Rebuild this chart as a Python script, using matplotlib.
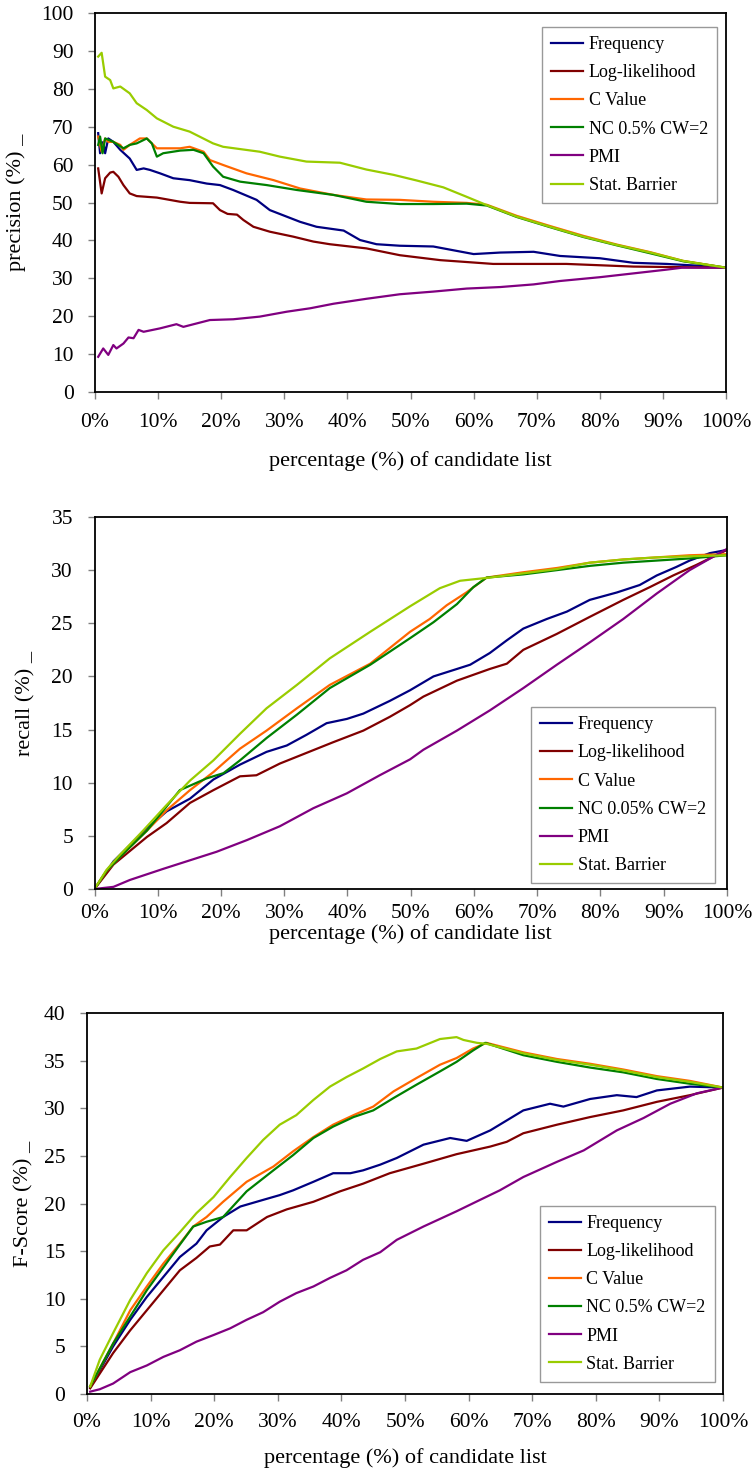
import matplotlib
matplotlib.use("Agg")
import matplotlib.pyplot as plt
from matplotlib.ticker import FuncFormatter

plt.rcParams['font.family'] = ['Liberation Serif', 'DejaVu Serif']

names = ["Frequency", "Log-likelihood", "C Value", "NC 0.5% CW=2", "PMI", "Stat. Barrier"]
names_recall = ["Frequency", "Log-likelihood", "C Value", "NC 0.05% CW=2", "PMI", "Stat. Barrier"]
colors = ["#000080", "#800000", "#FF6600", "#008000", "#800080", "#99CC00"]

# ---- precision (%) ----
prec_freq_x = [0.5, 0.8, 1.3, 1.6, 2.1, 2.9, 4, 5.5, 6.6, 7.7, 8.7, 10.3, 12.4, 15, 17.7, 19.8, 21.9, 25.6,
               27.7, 32.5, 35.1, 39.4, 42, 44.6, 48.3, 53.6, 60, 64.2, 69.5, 73.7, 80, 85.3, 90.6, 95.9, 100]
prec_freq = [68.3, 63, 66, 63, 66.9, 66, 63.9, 61.6, 58.6, 59, 58.6, 57.7, 56.4, 55.9, 55, 54.6, 53.3, 50.7,
             48, 44.9, 43.6, 42.6, 40.1, 39, 38.6, 38.4, 36.4, 36.8, 37, 35.9, 35.3, 34.1, 33.8, 33.3, 32.8]
prec_ll_x = [0.5, 1.05, 1.6, 2.4, 2.9, 3.7, 4.5, 5.5, 6.6, 9.8, 13.5, 15, 18.7, 19.8, 21, 22.5, 23.5, 25.1,
             27.7, 31.4, 34.6, 37.2, 43, 48.3, 54.7, 63.1, 74.7, 85.3, 100]
prec_ll = [59, 52.4, 56.4, 57.9, 58.1, 56.8, 54.6, 52.4, 51.7, 51.3, 50.2, 49.9, 49.8, 48, 47, 46.8, 45.4, 43.6,
           42.3, 41, 39.7, 39, 37.9, 36.1, 34.8, 33.8, 33.8, 33.1, 32.8]
prec_cval_x = [0.5, 1.05, 1.6, 2.1, 2.9, 4, 4.5, 5.5, 7.1, 8.2, 9, 9.8, 13.5, 15, 17.2, 18.2, 20.3, 24, 28.3,
               32.5, 37.8, 43, 48.3, 53.6, 58.9, 62.1, 66.8, 72.1, 77.4, 82.7, 88, 93.2, 100]
prec_cval = [67.4, 63.4, 66.9, 66, 66, 65.2, 63.9, 65.2, 66.9, 66.9, 65.6, 64.3, 64.3, 64.7, 63.4, 61.2, 59.9,
             57.7, 55.9, 53.7, 52, 50.8, 50.7, 50.2, 49.9, 49.4, 46.5, 43.8, 41.2, 38.9, 36.9, 34.6, 32.8]
prec_nc_x = [0.5, 0.8, 1.2, 1.6, 2.9, 4.5, 5.5, 6.6, 8.2, 9, 9.8, 10.8, 13.5, 15.6, 17.2, 18.7, 20.3, 23, 27.2,
             32, 37.8, 43, 48.3, 53.6, 58.9, 62.1, 66.8, 72.1, 77.4, 82.7, 88, 93.2, 100]
prec_nc = [65.2, 67.4, 63, 66.9, 66, 64.3, 65.2, 65.6, 66.9, 65.6, 62.1, 63, 63.7, 63.9, 63, 59.5, 56.8, 55.5,
           54.6, 53.3, 52, 50.2, 49.6, 49.6, 49.7, 49.2, 46.2, 43.5, 40.9, 38.7, 36.6, 34.5, 32.8]
prec_pmi_x = [0.5, 1.3, 2.1, 2.9, 3.4, 4.5, 5.3, 6.1, 6.9, 7.7, 10.3, 12.9, 14, 18.2, 21.9, 26.1, 30.4, 34.1,
              37.8, 43, 48.3, 53.6, 58.9, 64.2, 69.5, 73.7, 80, 85.3, 90.6, 93, 100]
prec_pmi = [9.3, 11.5, 9.8, 12.4, 11.5, 12.8, 14.4, 14.2, 16.4, 15.9, 16.8, 17.9, 17.2, 19, 19.2, 19.9, 21.2,
            22.1, 23.3, 24.6, 25.8, 26.5, 27.3, 27.7, 28.4, 29.3, 30.3, 31.3, 32.3, 32.8, 32.8]
prec_sb_x = [0.5, 1.05, 1.6, 2.4, 2.9, 4, 5.5, 6.6, 8.2, 9.8, 12.4, 15, 18.7, 20.3, 26.1, 29.3, 33.5, 38.8, 43,
             47.3, 51, 55.2, 58.9, 62.1, 66.8, 72.1, 77.4, 82.7, 88, 93.2, 100]
prec_sb = [88.5, 89.5, 83.2, 82.3, 80.1, 80.6, 78.8, 76.2, 74.4, 72.2, 70, 68.7, 65.6, 64.7, 63.4, 62.1, 60.8,
           60.5, 58.7, 57.3, 55.8, 54, 51.5, 49.3, 46.3, 43.6, 41, 38.8, 36.8, 34.6, 32.8]

# ---- recall (%) ----
rec_freq_x = [0, 3, 8.3, 11.4, 15.1, 18.8, 23, 27.2, 30.4, 33.5, 36.7, 39.9, 42.5, 46.7, 49.9, 53.6, 57.3,
              59.4, 62.5, 65.2, 67.8, 71.5, 74.7, 78.3, 82.6, 86.2, 88.9, 92, 94.1, 97.3, 100]
rec_freq = [0, 2.6, 5.7, 7.3, 8.5, 10.3, 11.7, 12.9, 13.5, 14.5, 15.6, 16, 16.5, 17.7, 18.7, 20, 20.7, 21.1,
            22.2, 23.4, 24.5, 25.4, 26.1, 27.2, 27.9, 28.6, 29.5, 30.3, 30.9, 31.6, 31.9]
rec_ll_x = [0, 3, 8.3, 11.4, 15.1, 18.8, 23, 25.6, 29.3, 33.5, 37.7, 42.5, 46.7, 49.9, 52, 57.3, 62.5, 65.2,
            67.8, 73.1, 78.3, 83.6, 87.8, 91.5, 95.2, 100]
rec_ll = [0, 2.3, 4.9, 6.2, 8.1, 9.3, 10.6, 10.7, 11.8, 12.8, 13.8, 14.9, 16.2, 17.3, 18.1, 19.6, 20.7, 21.2,
          22.5, 24, 25.6, 27.2, 28.4, 29.5, 30.5, 31.9]
rec_cval_x = [0, 1.9, 4, 8.3, 11.4, 15.1, 18.8, 23, 27.2, 32, 37.2, 43.6, 49.9, 53, 55.7, 58.8, 62, 67.8,
              73.1, 78.3, 83.6, 88.9, 94.1, 100]
rec_cval = [0, 1.7, 3.0, 5.5, 7.4, 9.3, 11, 13.2, 14.9, 17, 19.2, 21.2, 24.2, 25.4, 26.7, 27.9, 29.3, 29.8,
            30.2, 30.7, 31, 31.2, 31.4, 31.5]
rec_nc_x = [0, 1.9, 4, 8.3, 10.9, 13.5, 17.7, 20.4, 23, 27.2, 32, 37.2, 43.6, 49.9, 53.6, 57.3, 59.9, 62,
            67.8, 73.1, 78.3, 83.6, 88.9, 94.1, 100]
rec_nc = [0, 1.7, 3.0, 5.5, 7.4, 9.3, 10.4, 10.9, 12.1, 14.2, 16.4, 18.9, 21.1, 23.6, 25.1, 26.8, 28.4, 29.3,
          29.6, 30, 30.4, 30.7, 30.9, 31.1, 31.4]
rec_pmi_x = [0, 3, 5.6, 10.9, 15.1, 19.3, 24.1, 29.3, 34.6, 39.9, 45.1, 49.9, 52, 57.3, 62.5, 67.8, 73.1,
             78.3, 83.6, 88.9, 94.1, 100]
rec_pmi = [0, 0.2, 0.85, 1.9, 2.7, 3.5, 4.6, 5.9, 7.6, 9, 10.7, 12.2, 13.1, 14.9, 16.8, 18.9, 21.1, 23.2,
           25.4, 27.8, 30, 32]
rec_sb_x = [0, 1.9, 4, 7.7, 11.4, 15.1, 18.8, 23, 27.2, 32, 37.2, 43.6, 49.9, 54.6, 57.8, 62.5, 67.8, 73.1,
            78.3, 83.6, 88.9, 94.1, 100]
rec_sb = [0, 1.8, 3.2, 5.5, 7.9, 10.2, 12.1, 14.6, 17, 19.2, 21.7, 24.2, 26.6, 28.3, 29, 29.3, 29.7, 30.1,
          30.7, 31, 31.2, 31.3, 31.4]

# ---- F-Score (%) ----
f_freq_x = [0.5, 4.1, 6.8, 9.4, 12, 14.6, 17.2, 18.8, 21.4, 24.1, 27.7, 30.3, 32.4, 35.6, 38.7, 41.4, 43.4,
            46.1, 48.7, 52.9, 57.1, 59.7, 63.4, 68.6, 72.8, 74.9, 79.1, 83.3, 86.4, 89.6, 94.8, 100]
f_freq = [0.7, 5, 7.8, 10.2, 12.3, 14.4, 15.8, 17.2, 18.6, 19.7, 20.4, 20.9, 21.4, 22.3, 23.2, 23.2, 23.5,
          24.1, 24.8, 26.2, 26.9, 26.6, 27.7, 29.8, 30.5, 30.2, 31, 31.4, 31.2, 31.9, 32.3, 32.2]
f_ll_x = [0.5, 4.1, 6.8, 9.4, 12, 14.6, 17.2, 19.3, 20.9, 23, 25.1, 28.3, 31.4, 35.6, 39.8, 43.4, 47.6, 52.9,
          58.1, 63.4, 66, 68.6, 73.9, 79.1, 84.3, 89.6, 94.8, 100]
f_ll = [0.6, 4.3, 6.7, 8.8, 10.9, 13, 14.3, 15.5, 15.7, 17.2, 17.2, 18.6, 19.4, 20.2, 21.3, 22.1, 23.2, 24.2,
        25.2, 26, 26.5, 27.4, 28.3, 29.1, 29.8, 30.7, 31.4, 32.2]
f_cval_x = [0.5, 4.1, 6.8, 9.4, 12, 14.6, 16.7, 18.8, 21.4, 25.1, 29.3, 32.4, 35.6, 38.7, 41.9, 45, 48.2, 51.8,
            55.5, 58.1, 60.7, 62.8, 68.6, 73.9, 79.1, 84.3, 89.6, 94.8, 100]
f_cval = [0.8, 5.3, 8.8, 11.3, 13.7, 15.8, 17.6, 18.6, 20.2, 22.3, 23.9, 25.5, 27, 28.3, 29.3, 30.2, 31.8,
          33.2, 34.6, 35.3, 36.3, 36.9, 35.9, 35.2, 34.7, 34.1, 33.4, 32.9, 32.2]
f_nc_x = [0.5, 4.1, 9.4, 14.6, 16.7, 18.8, 21.4, 25.1, 29.3, 32.4, 35.6, 38.7, 41.9, 45, 48.2, 51.8, 55.5, 58.1,
          60.7, 62.6, 68.6, 73.9, 79.1, 84.3, 89.6, 94.8, 100]
f_nc = [0.8, 5.3, 10.9, 15.7, 17.6, 18.1, 18.6, 21.3, 23.5, 25.1, 26.9, 28.1, 29.1, 29.8, 31.1, 32.5, 33.9,
        34.9, 36.1, 36.9, 35.6, 34.9, 34.3, 33.8, 33.1, 32.6, 32.2]
f_pmi_x = [0.5, 2, 4.1, 6.8, 9.4, 12, 14.6, 17.2, 19.9, 22.5, 25.1, 27.7, 30.3, 32.9, 35.6, 38.2, 40.8, 43.4,
           46.1, 48.7, 52.9, 58.1, 61.8, 64.9, 68.6, 73.9, 78.1, 83.3, 87.5, 91.7, 95.9, 100]
f_pmi = [0.25, 0.5, 1.1, 2.3, 3, 3.9, 4.6, 5.5, 6.2, 6.9, 7.8, 8.6, 9.7, 10.6, 11.3, 12.2, 13, 14.1, 14.9,
         16.2, 17.6, 19.2, 20.4, 21.4, 22.8, 24.4, 25.6, 27.7, 29, 30.5, 31.6, 32.2]
f_sb_x = [0.5, 2, 4.1, 6.8, 9.4, 12, 14.6, 17.2, 19.9, 22.5, 25.1, 27.7, 30.3, 32.9, 35.6, 38.2, 40.8, 43.4,
          46.1, 48.7, 51.8, 55.5, 58.1, 59.2, 61.3, 62.8, 68.6, 73.9, 79.1, 84.3, 89.6, 94.8, 100]
f_sb = [0.8, 3.6, 6.4, 9.9, 12.7, 15.1, 17, 19, 20.7, 22.8, 24.8, 26.7, 28.3, 29.3, 30.9, 32.3, 33.3, 34.2,
        35.2, 36, 36.3, 37.3, 37.5, 37.2, 36.9, 36.8, 35.8, 35.1, 34.6, 34, 33.3, 32.8, 32.2]


def draw_panel(ax, series, labels, ymax, ystep, ylabel, ylabel_x, xlabel_y, xpad, leg_loc, leg_anchor):
    for (xs, ys), lab, col in zip(series, labels, colors):
        ax.plot(xs, ys, color=col, lw=1.6, label=lab)
    ax.set_xlim(0, 100)
    ax.set_ylim(0, ymax)
    ax.set_xticks(range(0, 101, 10))
    ax.set_yticks(range(0, ymax + 1, ystep))
    ax.xaxis.set_major_formatter(FuncFormatter(lambda v, p: "%d%%" % v))
    ax.tick_params(axis='both', direction='out', length=5, width=1, color='#808080', labelsize=15.5)
    ax.tick_params(axis='x', pad=xpad)
    ax.tick_params(axis='y', pad=10.5)
    for s in ax.spines.values():
        s.set_color('black')
        s.set_linewidth(1.3)
    ax.set_xlabel("percentage (%) of candidate list", fontsize=16, va='center')
    ax.xaxis.set_label_coords(0.5, xlabel_y)
    ax.set_ylabel(ylabel, fontsize=16, va='center')
    ax.yaxis.set_label_coords(ylabel_x, 0.5)
    leg = ax.legend(loc=leg_loc, bbox_to_anchor=leg_anchor, borderaxespad=0, fontsize=13, frameon=True,
                    fancybox=False, edgecolor='#808080', handlelength=1.8, handletextpad=0.3,
                    labelspacing=0.62, borderpad=0.5)
    leg.get_frame().set_linewidth(1.0)


fig = plt.figure(figsize=(7.56, 14.75), dpi=100)
ax1 = fig.add_axes([0.1257, 0.7342, 0.8347, 0.257])
ax2 = fig.add_axes([0.1250, 0.3973, 0.8366, 0.2522])
ax3 = fig.add_axes([0.1151, 0.0549, 0.8413, 0.2581])

draw_panel(ax1,
           [(prec_freq_x, prec_freq), (prec_ll_x, prec_ll), (prec_cval_x, prec_cval),
            (prec_nc_x, prec_nc), (prec_pmi_x, prec_pmi), (prec_sb_x, prec_sb)],
           names, 100, 10, "precision (%) _", -0.125, -0.183, 10, 'upper right', (0.9857, 0.963))
draw_panel(ax2,
           [(rec_freq_x, rec_freq), (rec_ll_x, rec_ll), (rec_cval_x, rec_cval),
            (rec_nc_x, rec_nc), (rec_pmi_x, rec_pmi), (rec_sb_x, rec_sb)],
           names_recall, 35, 5, "recall (%) _", -0.108, -0.121, 6, 'lower right', (0.981, 0.0153))
draw_panel(ax3,
           [(f_freq_x, f_freq), (f_ll_x, f_ll), (f_cval_x, f_cval),
            (f_nc_x, f_nc), (f_pmi_x, f_pmi), (f_sb_x, f_sb)],
           names, 40, 5, "F-Score (%) _", -0.1, -0.168, 9, 'lower right', (0.987, 0.032))

fig.savefig("out.png", dpi=100)
